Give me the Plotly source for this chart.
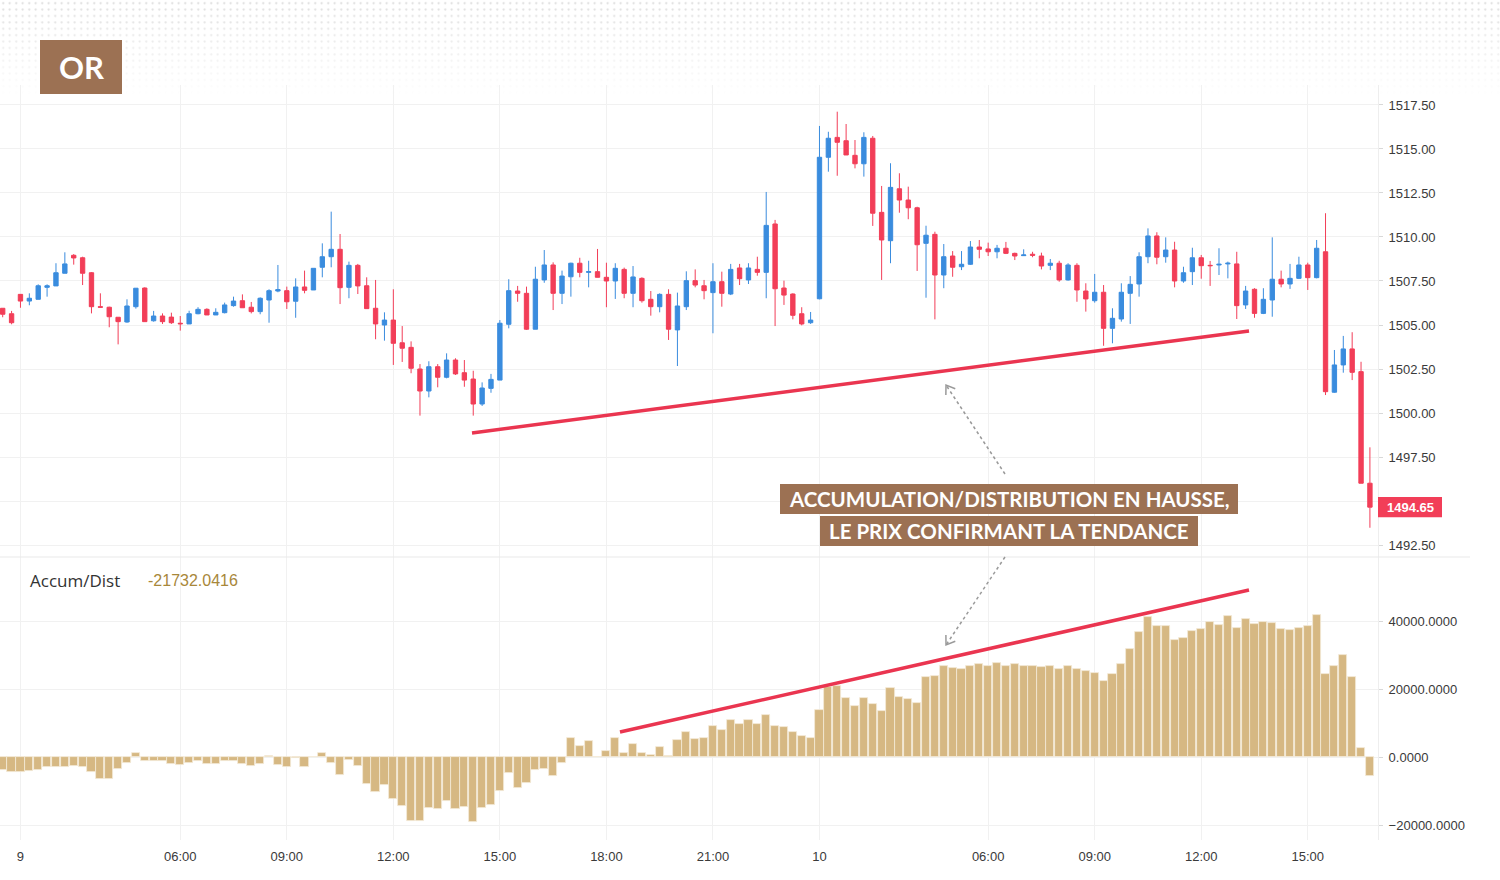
import base64
import math
import plotly.graph_objects as go

# ---------------- data ----------------
open_ = [1505.95,1505.64,1506.74,1506.36,1506.46,1507.14,1507.22,1507.94,1508.96,1508.82,
         1507.97,1506.04,1506.01,1505.44,1505.17,1506.04,1507.10,1505.24,1505.51,1505.45,
         1505.10,1505.06,1505.64,1505.89,1505.57,1505.70,1506.10,1506.38,1506.01,1505.76,
         1506.42,1506.93,1506.95,1506.35,1507.16,1506.99,1508.28,1508.88,1509.30,1507.14,
         1508.39,1507.23,1505.95,1505.00,1505.28,1503.99,1503.73,1502.50,1501.25,1502.63,
         1502.03,1503.01,1502.29,1501.93,1500.51,1501.40,1501.87,1505.04,1506.93,1506.80,
         1504.76,1507.56,1508.41,1506.80,1507.74,1508.51,1507.99,1508.03,1507.71,1507.50,
         1508.16,1506.80,1507.65,1506.46,1506.04,1506.74,1504.72,1506.04,1507.52,1507.23,
         1506.84,1507.46,1506.76,1508.24,1507.56,1508.16,1507.99,1510.74,1507.10,1506.76,
         1505.64,1505.13,1506.49,1514.53,1515.66,1515.47,1514.64,1514.16,1515.61,1511.40,
         1509.79,1512.74,1512.10,1511.66,1509.64,1510.15,1507.84,1508.92,1508.31,1508.45,
         1509.43,1509.32,1509.16,1509.36,1509.07,1508.94,1509.02,1508.92,1508.39,1508.51,
         1507.56,1508.39,1506.93,1506.38,1506.86,1504.81,1505.34,1506.80,1507.33,1508.88,
         1510.06,1508.88,1509.26,1507.50,1508.03,1508.82,1508.39,1508.41,1508.47,1508.47,
         1506.14,1507.03,1505.66,1506.42,1507.60,1507.33,1507.65,1508.41,1507.69,1509.16,
         1501.18,1502.73,1503.64,1502.35,1496.01]
high = [1505.95,1505.80,1506.74,1506.80,1507.31,1507.31,1508.51,1509.13,1509.03,1508.88,
        1508.01,1506.80,1506.04,1505.44,1506.46,1507.09,1507.14,1505.80,1505.66,1505.70,
        1505.51,1505.81,1506.01,1505.95,1505.95,1506.27,1506.61,1506.74,1506.31,1506.57,
        1507.03,1508.41,1507.18,1507.65,1508.09,1508.22,1509.64,1511.44,1510.17,1508.60,
        1508.47,1507.71,1507.56,1505.72,1507.03,1504.94,1504.07,1502.78,1502.94,1502.78,
        1503.39,1503.11,1503.01,1502.40,1501.74,1502.22,1505.28,1507.60,1507.22,1507.18,
        1508.31,1509.26,1508.56,1508.09,1508.54,1508.82,1508.65,1509.32,1508.54,1508.51,
        1508.26,1508.35,1507.71,1506.93,1506.80,1507.03,1506.84,1508.05,1508.16,1507.56,
        1508.51,1508.03,1508.47,1508.47,1508.51,1508.88,1512.56,1510.97,1507.52,1506.80,
        1506.01,1505.74,1516.31,1515.98,1517.12,1516.42,1515.51,1515.95,1515.74,1512.90,
        1514.19,1513.62,1512.86,1511.72,1510.64,1510.30,1509.60,1509.20,1509.20,1509.77,
        1509.83,1509.68,1509.55,1509.72,1509.11,1509.30,1509.16,1509.11,1508.75,1508.65,
        1508.51,1508.51,1507.37,1507.90,1507.27,1505.95,1507.37,1507.78,1509.13,1510.49,
        1510.27,1509.98,1509.73,1508.31,1509.39,1508.98,1508.64,1509.36,1508.60,1509.16,
        1507.22,1507.09,1507.09,1509.98,1508.09,1508.47,1508.88,1508.54,1509.83,1511.35,
        1503.58,1504.38,1504.59,1502.91,1498.05]
low = [1505.44,1505.04,1505.98,1506.12,1506.46,1506.61,1507.22,1507.94,1508.43,1507.27,
       1505.66,1506.01,1504.87,1503.90,1505.13,1505.93,1505.19,1505.19,1505.06,1505.06,
       1504.68,1505.06,1505.61,1505.57,1505.57,1505.66,1506.04,1505.98,1505.66,1505.61,
       1505.13,1506.86,1505.91,1505.41,1506.80,1506.99,1507.71,1508.28,1506.19,1506.52,
       1506.76,1505.93,1504.19,1504.11,1502.73,1502.90,1502.26,1499.85,1500.89,1501.46,
       1501.97,1502.16,1501.49,1499.85,1500.40,1501.15,1501.87,1504.81,1506.32,1504.72,
       1504.76,1507.40,1505.85,1506.19,1506.61,1507.71,1507.14,1507.71,1506.01,1506.48,
       1506.52,1506.01,1506.27,1505.53,1505.72,1504.15,1502.67,1505.85,1507.14,1506.46,
       1504.53,1506.04,1506.70,1507.27,1507.33,1507.80,1506.52,1504.94,1506.14,1505.32,
       1504.98,1505.06,1506.46,1513.71,1513.48,1514.66,1513.90,1513.43,1510.63,1507.56,
       1508.51,1511.38,1511.01,1508.07,1506.55,1505.32,1507.09,1507.74,1508.12,1508.41,
       1508.79,1508.92,1508.79,1509.03,1508.69,1508.92,1508.85,1508.16,1508.12,1507.46,
       1507.52,1506.32,1505.76,1506.27,1503.82,1503.96,1505.19,1505.06,1506.61,1508.51,
       1508.45,1508.54,1507.14,1507.40,1507.27,1507.63,1507.22,1507.84,1507.65,1505.34,
       1505.91,1505.41,1505.62,1505.47,1507.14,1507.05,1507.61,1506.99,1507.65,1501.02,
       1501.15,1502.29,1501.87,1496.01,1493.48]
close = [1505.61,1505.13,1506.36,1506.52,1507.23,1507.23,1507.97,1508.47,1508.81,1507.94,
         1506.04,1506.01,1505.47,1505.19,1506.08,1507.09,1505.19,1505.51,1505.19,1505.13,
         1505.07,1505.64,1505.89,1505.57,1505.72,1506.14,1506.36,1505.98,1505.76,1506.52,
         1506.95,1507.01,1506.32,1507.16,1506.97,1508.22,1508.88,1509.30,1507.12,1508.39,
         1507.22,1505.93,1505.06,1505.28,1503.96,1503.68,1502.54,1501.25,1502.63,1502.03,
         1503.01,1502.22,1501.87,1500.51,1501.42,1501.91,1505.10,1506.95,1506.80,1504.76,
         1507.60,1508.41,1506.80,1507.78,1508.51,1507.99,1508.03,1507.71,1507.50,1508.22,
         1506.80,1507.73,1506.38,1506.04,1506.74,1504.76,1506.08,1507.52,1507.27,1506.95,
         1507.46,1506.80,1508.16,1507.63,1508.24,1507.99,1510.66,1507.06,1506.70,1505.55,
         1505.06,1505.28,1514.53,1515.61,1515.38,1514.66,1514.16,1515.66,1511.35,1509.83,
         1512.82,1512.10,1511.66,1509.56,1510.10,1507.84,1508.88,1508.28,1508.45,1509.43,
         1509.30,1509.16,1509.36,1509.07,1508.92,1508.98,1508.96,1508.35,1508.51,1507.56,
         1508.41,1506.99,1506.48,1506.86,1504.81,1505.38,1506.86,1507.31,1508.88,1510.06,
         1508.85,1509.26,1507.50,1507.97,1508.82,1508.37,1508.37,1508.45,1508.51,1506.10,
         1506.93,1505.66,1506.46,1507.60,1507.33,1507.65,1508.41,1507.69,1509.36,1501.21,
         1502.73,1503.64,1502.31,1496.01,1494.65]
accum_dist = [-3725,-4412,-4412,-4020,-3725,-2941,-2941,-2941,-2549,-2941,
              -4412,-6275,-6275,-3431,-1765,1373,-1176,-980,-1176,-1961,
              -2157,-1569,-1176,-1863,-1863,-1176,-1176,-1863,-2549,-1863,
              490,-2255,-2941,-294,-2941,60,1373,-1569,-5196,-882,
              -2549,-7843,-10294,-8137,-12255,-14216,-18627,-18627,-14804,-15098,
              -12941,-15098,-14500,-19000,-15000,-14000,-10000,-4500,-9000,-7500,
              -3800,-3530,-5500,-1569,5784,3431,4706,60,1863,5784,
              1373,4020,1373,588,3137,294,5000,7549,5392,5784,
              9118,8039,10980,9902,10980,9902,12549,9118,8824,7549,
              6176,5784,13922,20784,21078,17353,15196,17353,15588,13627,
              20294,17745,17059,15882,23725,24020,26863,26275,25980,26863,
              27353,26863,27843,26863,27353,26863,26863,26569,26863,25980,
              26863,25980,25490,24804,22451,24412,27353,31863,36765,41177,
              38627,38627,34510,35196,37059,37745,39902,38922,41569,38137,
              40784,39314,39902,39510,37745,37353,38137,38627,41863,24412,
              26961,30000,23725,2843,-5490]

tick_index = [2, 20, 32, 44, 56, 68, 80, 92, 111, 123, 135, 147]
tick_text = ["9", "06:00", "09:00", "12:00", "15:00", "18:00", "21:00",
             "10", "06:00", "09:00", "12:00", "15:00"]

# price scale ticks (1495.00 is hidden behind the last-price tag, as in the source)
price_tickvals = [1492.5, 1495.0, 1497.5, 1500.0, 1502.5, 1505.0, 1507.5, 1510.0,
                  1512.5, 1515.0, 1517.5]
price_ticktext = ["1492.50", "", "1497.50", "1500.00", "1502.50", "1505.00", "1507.50",
                  "1510.00", "1512.50", "1515.00", "1517.50"]
ad_tickvals = [-20000, 0, 20000, 40000]

# trend lines (bar index, value)
price_trend_x = [52.86, 140.38]
price_trend_y = [1498.86, 1504.66]
ad_trend_x = [69.53, 140.38]
ad_trend_y = [7441, 49203]

indicator_name = "Accum/Dist"
indicator_value = "-21732.0416"
asset_label = "OR"
note_lines = ["ACCUMULATION/DISTRIBUTION EN HAUSSE,", "LE PRIX CONFIRMANT LA TENDANCE"]

# ---------------- layout helpers ----------------
W, H = 1500, 880
MB = 40
PH = H - MB          # plot height in px (margins l=r=t=0)


def px(X):
    return X / W


def py(Y):
    return (PH - Y) / PH


RED = "#f23e58"
BLUE = "#3a8cde"
TREND = "#ea3550"
BROWN = "#9c7153"
GRID = "#f1f1f1"
XR = 1378  # right edge of plot panes

idx = list(range(len(close)))

fig = go.Figure()
fig.add_trace(go.Candlestick(
    x=idx, open=open_, high=high, low=low, close=close,
    increasing=dict(line=dict(color=BLUE, width=1), fillcolor=BLUE),
    decreasing=dict(line=dict(color=RED, width=1), fillcolor=RED),
    whiskerwidth=0, xaxis="x", yaxis="y", showlegend=False, hoverinfo="skip"))
fig.add_trace(go.Bar(
    x=idx, y=accum_dist, marker=dict(color="#d6b883", line=dict(color="#f4ead8", width=0.8)),
    width=0.92, xaxis="x2", yaxis="y2", showlegend=False, hoverinfo="skip"))

xdom = [0, XR / W]
xrange_ = [-0.304, 154.91]
axfont = dict(family="Liberation Sans, Arial, sans-serif", size=13, color="#3a3a3a")

fig.update_layout(
    width=W, height=H,
    margin=dict(l=0, r=0, t=0, b=MB),
    paper_bgcolor="white", plot_bgcolor="rgba(0,0,0,0)",
    bargap=0,
    xaxis=dict(domain=xdom, range=xrange_, anchor="y", tickvals=tick_index, ticktext=tick_text,
               showticklabels=False, showgrid=True, gridcolor=GRID, zeroline=False,
               rangeslider=dict(visible=False), fixedrange=True),
    xaxis2=dict(domain=xdom, range=xrange_, anchor="y2", matches="x", tickvals=tick_index,
                ticktext=tick_text, showticklabels=True, showgrid=True, gridcolor=GRID,
                zeroline=False, ticks="", tickfont=axfont, ticklabelstandoff=7),
    yaxis=dict(domain=[py(557), py(85)], range=[1491.818, 1518.636], side="right",
               anchor="x", tickvals=price_tickvals, ticktext=price_ticktext, showgrid=True,
               gridcolor=GRID, zeroline=False, ticks="outside", ticklen=4, tickcolor="#d8d8d8",
               ticklabelstandoff=3, tickfont=axfont, showline=True, linecolor="#eeeeee"),
    yaxis2=dict(domain=[0, py(557)], range=[-24322, 58908], side="right", anchor="x2",
                tickvals=ad_tickvals, tickformat=".4f", showgrid=True,
                gridcolor=GRID, zeroline=False, ticks="outside", ticklen=4, tickcolor="#d8d8d8",
                ticklabelstandoff=3, tickfont=axfont, showline=True, linecolor="#eeeeee"),
)

# dotted texture at top
svg = ('<svg xmlns="http://www.w3.org/2000/svg" width="1500" height="96" viewBox="0 0 1500 96">'
       '<defs><pattern id="p" width="6.5" height="6.4" patternUnits="userSpaceOnUse">'
       '<circle cx="3.2" cy="3.2" r="1.05" fill="#cdcdcd"/></pattern>'
       '<linearGradient id="g" x1="0" y1="0" x2="0" y2="1">'
       '<stop offset="0" stop-color="#fff" stop-opacity="0.75"/>'
       '<stop offset="1" stop-color="#fff" stop-opacity="0"/></linearGradient>'
       '<mask id="m"><rect width="1500" height="96" fill="url(#g)"/></mask></defs>'
       '<rect width="1500" height="96" fill="url(#p)" mask="url(#m)"/></svg>')
src = "data:image/svg+xml;base64," + base64.b64encode(svg.encode()).decode()
fig.add_layout_image(dict(source=src, xref="paper", yref="paper", x=0, y=1, sizex=1,
                          sizey=96 / PH, sizing="stretch", xanchor="left", yanchor="top",
                          layer="below"))

shapes = []
# pane separator
shapes.append(dict(type="line", xref="paper", yref="paper", x0=0, x1=px(1470), y0=py(557),
                   y1=py(557), line=dict(color="#e9e9e9", width=1)))
# trend lines
shapes.append(dict(type="line", xref="x", yref="y", x0=price_trend_x[0], x1=price_trend_x[1],
                   y0=price_trend_y[0], y1=price_trend_y[1], line=dict(color=TREND, width=3.5)))
shapes.append(dict(type="line", xref="x2", yref="y2", x0=ad_trend_x[0], x1=ad_trend_x[1],
                   y0=ad_trend_y[0], y1=ad_trend_y[1], line=dict(color=TREND, width=3.5)))


def dashed_arrow(x0, y0, x1, y1):
    out = [dict(type="line", xref="paper", yref="paper", x0=px(x0), y0=py(y0), x1=px(x1),
                y1=py(y1), line=dict(color="#9a9a9a", width=1.5, dash="3px,3px"))]
    dx, dy = x0 - x1, y0 - y1
    L = math.hypot(dx, dy)
    ux, uy = dx / L, dy / L
    pts = []
    for a in (0.6, -0.6):
        c, s = math.cos(a), math.sin(a)
        rx, ry = ux * c - uy * s, ux * s + uy * c
        pts.append((x1 + rx * 10, y1 + ry * 10))
    path = "M {:.5f},{:.5f} L {:.5f},{:.5f} L {:.5f},{:.5f}".format(
        px(pts[0][0]), py(pts[0][1]), px(x1), py(y1), px(pts[1][0]), py(pts[1][1]))
    out.append(dict(type="path", xref="paper", yref="paper", path=path,
                    line=dict(color="#9a9a9a", width=1.5)))
    return out


shapes += dashed_arrow(1005, 474, 946, 385)
shapes += dashed_arrow(1005, 557, 946, 645)

# note boxes
shapes.append(dict(type="rect", xref="paper", yref="paper", x0=px(780), x1=px(1238),
                   y0=py(514), y1=py(484), fillcolor=BROWN, line=dict(width=0)))
shapes.append(dict(type="rect", xref="paper", yref="paper", x0=px(820), x1=px(1198),
                   y0=py(546), y1=py(516), fillcolor=BROWN, line=dict(width=0)))
# asset box
shapes.append(dict(type="rect", xref="paper", yref="paper", x0=px(40), x1=px(122),
                   y0=py(94), y1=py(40), fillcolor=BROWN, line=dict(width=0)))
# last price box
shapes.append(dict(type="rect", xref="paper", yref="y", x0=px(1378), x1=px(1442),
                   y0=close[-1] - 0.57, y1=close[-1] + 0.57, fillcolor=RED, line=dict(width=0)))
fig.update_layout(shapes=shapes)

bold = "Lato, Inter, sans-serif"
C = dict(xanchor="center", yanchor="middle", showarrow=False)
ann = []
ann.append(dict(xref="paper", yref="paper", x=px(81), y=py(67), text=asset_label,
                font=dict(family=bold, size=31, color="white", weight=700), **C))
ann.append(dict(xref="paper", yref="paper", x=px(1009), y=py(499), text=note_lines[0],
                font=dict(family=bold, size=20.5, color="white", weight=700), **C))
ann.append(dict(xref="paper", yref="paper", x=px(1009), y=py(531), text=note_lines[1],
                font=dict(family=bold, size=20.5, color="white", weight=700), **C))
ann.append(dict(xref="paper", yref="y", x=px(1410), y=close[-1], text="{:.2f}".format(close[-1]),
                font=dict(family="Liberation Sans, Arial", size=13, color="white", weight=700),
                **C))
ann.append(dict(xref="paper", yref="paper", x=px(28), y=py(580), xanchor="left",
                yanchor="middle", showarrow=False, text=indicator_name,
                font=dict(family="Open Sans, Liberation Sans, Arial", size=17, color="#333333")))
ann.append(dict(xref="paper", yref="paper", x=px(146), y=py(580), xanchor="left",
                yanchor="middle", showarrow=False, text=indicator_value,
                font=dict(family="Liberation Sans, Arial", size=16, color="#a8873a")))
fig.update_layout(annotations=ann)

fig.write_html("out.html", config={"displayModeBar": False})
